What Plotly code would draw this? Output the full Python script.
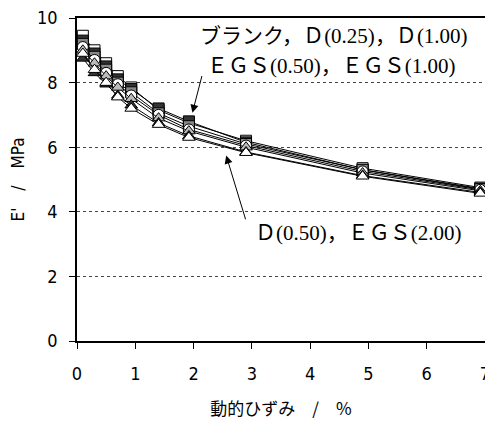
import plotly.graph_objects as go

strain = [0.1, 0.3, 0.5, 0.7, 0.93, 1.4, 1.92, 2.9, 4.9, 6.92]

blank = [9.45, 9.0, 8.6, 8.2, 7.85, 7.15, 6.75, 6.2, 5.35, 4.75]
d025 = [9.3, 8.9, 8.5, 8.1, 7.8, 7.2, 6.8, 6.15, 5.3, 4.72]
d100 = [9.2, 8.8, 8.4, 8.0, 7.7, 7.05, 6.65, 6.1, 5.3, 4.7]
egs050 = [9.1, 8.7, 8.3, 7.95, 7.6, 7.0, 6.55, 6.05, 5.25, 4.68]
egs100 = [9.0, 8.6, 8.2, 7.85, 7.5, 6.9, 6.5, 6.0, 5.2, 4.65]
d050 = [8.75, 8.3, 7.95, 7.6, 7.3, 6.75, 6.35, 5.85, 5.12, 4.6]
egs200 = [8.9, 8.4, 8.0, 7.55, 7.2, 6.7, 6.3, 5.83, 5.1, 4.57]

series = [
    ("ブランク", blank, "square", "white"),
    ("D(0.25)", d025, "square", "#333333"),
    ("D(1.00)", d100, "square", "#888888"),
    ("EGS(0.50)", egs050, "circle", "white"),
    ("EGS(1.00)", egs100, "triangle-up", "#bbbbbb"),
    ("D(0.50)", d050, "triangle-up", "#333333"),
    ("EGS(2.00)", egs200, "triangle-up", "white"),
]

xticks = [0, 1, 2, 3, 4, 5, 6, 7]
yticks = [0, 2, 4, 6, 8, 10]

fig = go.Figure()
for name, ys, sym, fill in series:
    fig.add_trace(go.Scatter(
        x=strain, y=ys, name=name, mode="lines+markers",
        line=dict(color="black", width=1),
        marker=dict(symbol=sym, size=11, color=fill, line=dict(color="black", width=1)),
        showlegend=False))

num = lambda s: f'<span style="font-family:Liberation Serif">{s}</span>'
jp = "Noto Sans CJK JP"

fig.add_annotation(x=1.98, y=7.07, ax=2.15, ay=8.25, axref="x", ayref="y",
                   xref="x", yref="y", text="", showarrow=True,
                   arrowhead=2, arrowsize=1.6, arrowwidth=1, arrowcolor="black")
fig.add_annotation(x=2.56, y=5.74, ax=2.9, ay=3.72, axref="x", ayref="y",
                   xref="x", yref="y", text="", showarrow=True,
                   arrowhead=2, arrowsize=1.6, arrowwidth=1, arrowcolor="black")

# the page body has an 8px margin, so the figure is drawn 8px smaller
OFF = 8
W, H = 493 - OFF, 421 - OFF
L, R, T, B = 77 - OFF, 8, 18 - OFF, 80
pw, ph = W - L - R, H - T - B

# label anchor points in reference-window pixels
labels = [
    (470, 34, "ブランク，Ｄ" + num("(0.25)") + "，Ｄ" + num("(1.00)")),
    (458, 64, "ＥＧＳ" + num("(0.50)") + "，ＥＧＳ" + num("(1.00)")),
    (464, 231, "Ｄ" + num("(0.50)") + "，ＥＧＳ" + num("(2.00)")),
]
for px, py, txt in labels:
    fig.add_annotation(x=(px - OFF - L) / pw, y=1 - (py - OFF - T) / ph, xref="paper", yref="paper",
                       xanchor="right", yanchor="middle", showarrow=False, text=txt,
                       font=dict(family=jp, size=21, color="black"))

fig.update_layout(
    width=W, height=H,
    margin=dict(l=L, r=R, t=T, b=B),
    paper_bgcolor="white", plot_bgcolor="white",
    font=dict(family="Liberation Sans Narrow, DejaVu Sans Condensed, sans-serif", size=18, color="black"),
    xaxis=dict(range=[0, 7], tickvals=xticks, ticks="outside", ticklen=6, tickcolor="black",
               showline=True, linecolor="black", linewidth=1.5, mirror=True, automargin=False,
               ticklabeloverflow="allow", ticklabelstandoff=10,
               showgrid=False, zeroline=False,
               title=dict(text="動的ひずみ　/　%", font=dict(family=jp, size=17), standoff=20)),
    yaxis=dict(range=[0, 10], tickvals=yticks, ticks="outside", ticklen=6, tickcolor="black",
               showline=True, linecolor="black", linewidth=1.5, mirror=True, automargin=False,
               ticklabeloverflow="allow", ticklabelstandoff=8,
               showgrid=True, gridcolor="#444444", griddash="dot", gridwidth=1,
               zeroline=False,
               title=dict(text="E'　/　MPa", font=dict(family="Liberation Sans Narrow, DejaVu Sans Condensed", size=17), standoff=10)),
)

fig.write_html("out.html")
